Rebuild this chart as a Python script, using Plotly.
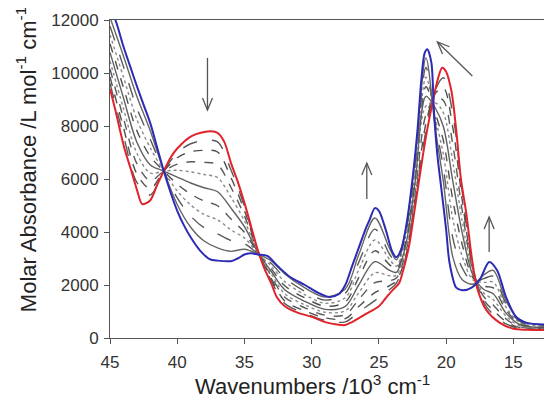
import numpy as np
import plotly.graph_objects as go

# ---- data ----
red_x = [45, 44.6, 44.26, 43.9, 43.5, 43, 42.6, 42, 41.5, 41, 40.5, 40, 39, 38, 37.5, 37, 36.5, 36, 35.5, 35,
         34.5, 34, 33.5, 33, 32.6, 32, 31, 30, 29, 28, 27.5, 27, 26, 25, 24.5, 24, 23.5, 23.25, 22.75, 22.5,
         22, 21.5, 21, 20.6, 20.3, 20, 19.6, 19.25, 18.9, 18.5, 18.1, 17.7, 17.0, 16.0, 15, 14, 12.2]
red_y = [9400, 8600, 7850, 7100, 6450, 5600, 5050, 5200, 5770, 6300, 6800, 7150, 7600, 7770, 7800, 7740, 7400,
         6600, 5900, 5100, 4200, 3300, 2600, 2050, 1550, 1200, 950, 800, 600, 500, 490, 600, 900, 1200, 1500,
         1800, 2070, 2450, 3500, 4300, 6000, 7600, 8900, 9800, 10200, 10050, 9300, 7850, 6000, 4700, 3060,
         1900, 1050, 570, 350, 310, 300]

blue_x = [45, 44.6, 44, 43.5, 43, 42.5, 42, 41.5, 41, 40.5, 40, 39.5, 39, 38.3, 37.6, 37, 36, 35.5, 35, 34.5,
          34, 33.3, 32.5, 31.6, 30.5, 29.5, 28.7, 28, 27.5, 27, 26.5, 26, 25.7, 25.3, 25, 24.5, 24, 23.7, 23.3,
          22.9, 22.5, 22.13, 21.85, 21.6, 21.4, 21.1, 20.9, 20.65, 20.3, 20.0, 19.75, 19.25, 18.8, 18.1, 17.5,
          16.8, 16.2, 15.55, 14.8, 14.0, 12.2]
blue_y = [12400, 12000, 11000, 10250, 9500, 8800, 8100, 7200, 6300, 5500, 4800, 4250, 3800, 3300, 2980, 2920,
          2900, 3000, 3150, 3200, 3150, 3100, 2700, 2300, 2000, 1700, 1550, 1650, 2000, 2700, 3400, 4100, 4450,
          4900, 4800, 4100, 3250, 3050, 3400, 4450, 6000, 7850, 9700, 10750, 10900, 10400, 8500, 6900, 5400,
          4100, 2850, 1900, 1800, 1900, 2200, 2870, 2550, 1550, 800, 570, 500]

gray_x = [45, 44, 43, 42, 41, 40, 39, 38, 37, 36, 35, 34, 33, 32, 30.5, 29, 27.5, 26.5, 25.3, 24.2, 23.7, 23.0,
          22.3, 21.5, 20.8, 20.2, 19.5, 18.8, 18.0, 17.2, 16.5, 15.5, 14.5, 12.2]
gray_1 = [9610, 7650, 5870, 5400, 6300, 6990, 7330, 7450, 7400, 6340, 4960, 3290, 2160, 1300, 930, 670, 610, 980,
          1410, 1830, 2070, 3000, 5140, 7830, 9370, 9820, 8450, 5520, 2650, 1340, 890, 520, 360, 310]
gray_2 = [9850, 7940, 6190, 5640, 6300, 6800, 7030, 7080, 7020, 6050, 4810, 3280, 2240, 1400, 1020, 760, 730, 1190,
          1710, 1980, 2160, 3100, 5300, 8100, 9230, 9440, 7930, 5200, 2590, 1440, 1050, 600, 390, 330]
gray_3 = [10150, 8300, 6580, 5930, 6300, 6560, 6650, 6630, 6540, 5680, 4610, 3260, 2330, 1540, 1140, 860, 880, 1450,
          2090, 2160, 2260, 3240, 5500, 8430, 9050, 8960, 7280, 4800, 2510, 1560, 1250, 700, 420, 350]
gray_4 = [10450, 8660, 6970, 6220, 6300, 6330, 6270, 6170, 6050, 5310, 4420, 3250, 2420, 1670, 1250, 970, 1030, 1710,
          2460, 2350, 2370, 3370, 5700, 8760, 8870, 8490, 6630, 4400, 2440, 1690, 1450, 800, 460, 370]
gray_5 = [10780, 9060, 7390, 6530, 6300, 6070, 5850, 5670, 5520, 4900, 4200, 3230, 2510, 1820, 1380, 1080, 1190, 2000,
          2880, 2550, 2480, 3520, 5920, 9120, 8670, 7970, 5910, 3960, 2360, 1830, 1670, 910, 500, 390]
gray_6 = [11110, 9450, 7820, 6850, 6300, 5810, 5430, 5170, 4990, 4490, 3990, 3210, 2610, 1970, 1510, 1200, 1360, 2280,
          3290, 2760, 2600, 3670, 6140, 9480, 8470, 7440, 5200, 3520, 2270, 1960, 1890, 1020, 540, 410]
gray_7 = [11440, 9850, 8250, 7170, 6300, 5550, 5020, 4660, 4460, 4080, 3770, 3200, 2710, 2120, 1630, 1310, 1520, 2570,
          3700, 2960, 2710, 3820, 6360, 9840, 8280, 6920, 4480, 3080, 2190, 2100, 2110, 1130, 580, 440]
gray_8 = [11770, 10240, 8680, 7490, 6300, 5290, 4600, 4160, 3930, 3680, 3560, 3180, 2810, 2270, 1760, 1430, 1690, 2850,
          4110, 3160, 2830, 3970, 6580, 10210, 8080, 6400, 3770, 2640, 2110, 2240, 2330, 1240, 620, 460]
gray_9 = [12100, 10640, 9110, 7810, 6300, 5040, 4180, 3660, 3400, 3270, 3350, 3170, 2910, 2420, 1890, 1550, 1850, 3140,
          4530, 3370, 2950, 4120, 6800, 10570, 7880, 5880, 3050, 2200, 2030, 2380, 2550, 1350, 660, 480]

x_ticks = [45, 40, 35, 30, 25, 20, 15]
x_tick_labels = ['45', '40', '35', '30', '25', '20', '15']
y_ticks = [0, 2000, 4000, 6000, 8000, 10000, 12000]
y_tick_labels = ['0', '2000', '4000', '6000', '8000', '10000', '12000']

# arrows: (tail x, tail y, tip x, tip y)
arrow_tail_x = [37.75, 25.9, 18.05, 16.8]
arrow_tail_y = [10570, 5250, 9890, 3250]
arrow_tip_x = [37.75, 25.9, 20.65, 16.8]
arrow_tip_y = [8600, 6600, 11170, 4570]

# ---- figure ----
# the page body has an 8 px default margin, so the figure is 8 px smaller than the window
X_RANGE = [45, 12.2]
Y_RANGE = [0, 12000]
W, H = 544, 401
ML, MR, MT, MB = 102, 1, 12, 71

fig = go.Figure()

gray_series = [gray_1, gray_2, gray_3, gray_4, gray_5, gray_6, gray_7, gray_8, gray_9]
gray_dash = ['longdash', 'dash', 'dash', 'dot', 'solid', 'dash', 'dot', 'longdash', 'solid']
gray_col = ['#5a5a5a', '#505050', '#5a5a5a', '#8a8a8a', '#606060', '#505050', '#8a8a8a', '#5a5a5a', '#666666']
for ys, d, c in zip(gray_series, gray_dash, gray_col):
    fig.add_trace(go.Scatter(x=gray_x, y=ys, mode='lines',
                             line=dict(color=c, width=1.4, dash=d, shape='spline', smoothing=0.9),
                             hoverinfo='skip', showlegend=False))

fig.add_trace(go.Scatter(x=red_x, y=red_y, mode='lines',
                         line=dict(color='#e0242c', width=2, shape='spline', smoothing=0.8),
                         showlegend=False))
fig.add_trace(go.Scatter(x=blue_x, y=blue_y, mode='lines',
                         line=dict(color='#2b2bb5', width=2, shape='spline', smoothing=0.8),
                         showlegend=False))

# arrow shapes (shaft + open V head), head size in pixels converted to data units
pw = W - ML - MR
ph = H - MT - MB
sx = pw / (X_RANGE[0] - X_RANGE[1])   # px per x-unit (x reversed)
sy = ph / (Y_RANGE[1] - Y_RANGE[0])   # px per y-unit
head_len, head_half = 12, 5
for tx, ty, hx, hy in zip(arrow_tail_x, arrow_tail_y, arrow_tip_x, arrow_tip_y):
    fig.add_shape(type='line', x0=tx, y0=ty, x1=hx, y1=hy, xref='x', yref='y',
                  line=dict(color='#555555', width=1.3))
    dxp = -(hx - tx) * sx
    dyp = (hy - ty) * sy
    L = np.hypot(dxp, dyp)
    ux, uy = dxp / L, dyp / L
    px_, py_ = -uy, ux
    pts = []
    for s in (1, -1):
        bx = -ux * head_len + s * px_ * head_half
        by = -uy * head_len + s * py_ * head_half
        pts.append((hx - bx / sx, hy + by / sy))
    path = f"M {pts[0][0]},{pts[0][1]} L {hx},{hy} L {pts[1][0]},{pts[1][1]}"
    fig.add_shape(type='path', path=path, xref='x', yref='y',
                  line=dict(color='#555555', width=1.3))

font_main = 'Liberation Sans, Arial, sans-serif'
fig.update_layout(
    width=W, height=H,
    margin=dict(l=ML, r=MR, t=MT, b=MB, autoexpand=False),
    paper_bgcolor='white', plot_bgcolor='white',
    font=dict(family=font_main, color='#333333'),
    xaxis=dict(range=X_RANGE, tickvals=x_ticks, ticktext=x_tick_labels, ticks='outside', ticklen=5,
               tickcolor='#555555', automargin=False, ticklabelstandoff=4,
               showline=True, linecolor='#555555', linewidth=1, mirror=True, showgrid=False, zeroline=False,
               tickfont=dict(size=17, color='#333333')),
    yaxis=dict(range=Y_RANGE, tickvals=y_ticks, ticktext=y_tick_labels, ticks='outside', ticklen=5,
               tickcolor='#555555', automargin=False, ticklabelstandoff=2,
               showline=True, linecolor='#555555', linewidth=1, mirror=True, showgrid=False, zeroline=False,
               tickfont=dict(size=17, color='#333333')),
    annotations=[
        dict(text='Molar Absorbance /L mol<sup>-1</sup> cm<sup>-1</sup>', textangle=-90,
             xref='paper', yref='paper', x=-0.19, y=0.56, xanchor='center', yanchor='middle',
             showarrow=False, font=dict(size=22, color='#222222')),
        dict(text='Wavenumbers /10<sup>3</sup> cm<sup>-1</sup>',
             xref='paper', yref='paper', x=0.46, y=-0.148, xanchor='center', yanchor='middle',
             showarrow=False, font=dict(size=22, color='#222222')),
    ],
)

fig.write_html("out.html")
